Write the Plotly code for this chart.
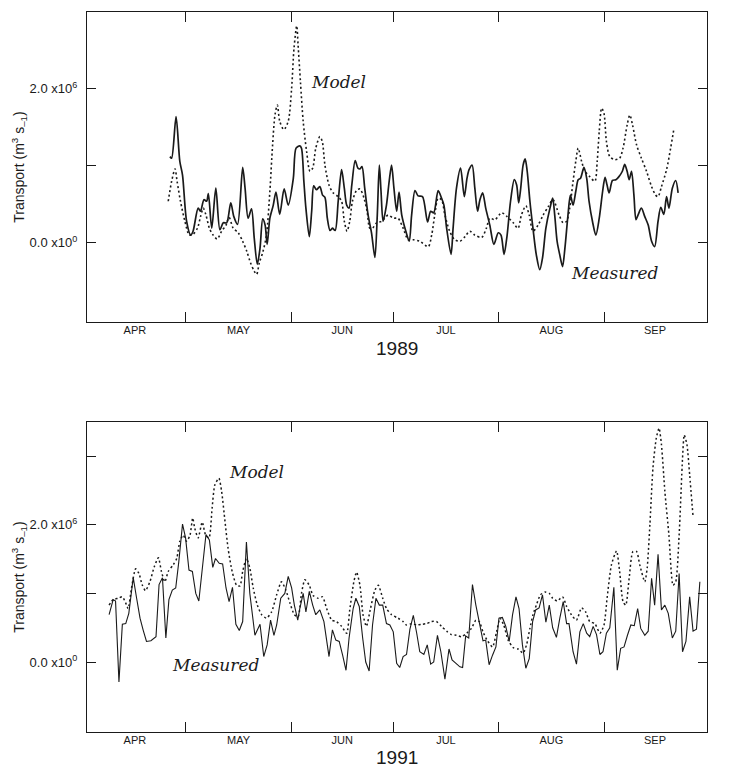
import plotly.graph_objects as go

# x = days since 1 April; y = transport in units of 1e6 m^3 s^-1
meas89_day = [25.3, 25.8, 27.1, 28.2, 29.0, 30.2, 31.4, 32.1, 33.6, 34.3, 35.3, 36.1, 36.6, 37.6, 38.8, 40.0,
              41.0, 42.0, 43.2, 44.1, 45.2, 46.7, 47.4, 48.3, 49.3, 50.1, 51.0, 51.8, 52.6, 53.3, 53.9, 54.7,
              55.7, 56.5, 57.6, 58.9, 60.1, 61.6, 62.4, 63.5, 64.0, 64.7, 65.3, 66.3, 67.0, 67.6, 68.4, 69.4,
              70.2, 70.9, 71.6, 72.4, 73.1, 73.9, 74.8, 75.8, 76.6, 77.3, 78.0, 78.8, 79.8, 80.6, 81.2, 81.8,
              82.6, 83.6, 84.6, 85.6, 86.3, 86.9, 87.4, 88.0, 89.0, 89.8, 90.5, 91.2, 92.0, 92.7, 93.5, 94.7,
              95.7, 96.4, 97.4, 98.3, 99.6, 101.1, 102.0, 102.9, 104.2, 105.2, 105.9, 106.7, 108.0, 108.6,
              109.6, 110.8, 111.9, 112.7, 113.3, 114.2, 115.0, 115.8, 116.5, 117.3, 118.2, 119.4, 120.6,
              121.9, 122.7, 123.6, 124.5, 125.5, 126.6, 127.3, 127.9, 128.5, 129.2, 129.8, 130.4, 131.2,
              132.1, 133.1, 134.1, 134.9, 135.9, 137.1, 137.9, 138.5, 139.2, 140.0, 140.8, 141.5, 142.4,
              143.1, 143.9, 144.7, 145.4, 146.1, 147.1, 147.9, 148.6, 149.6, 150.6, 151.6, 152.6, 153.3,
              153.9, 154.5, 155.5, 156.5, 157.4, 158.4, 159.1, 159.8, 160.4, 161.1, 161.8, 162.4, 163.0,
              164.0, 165.0, 166.0, 167.0, 167.9, 168.9, 169.7, 170.6, 171.4, 172.1, 173.1, 174.1, 174.8]
meas89_val = [1.12, 1.10, 1.64, 1.06, 0.88, 0.28, 0.10, 0.15, 0.45, 0.41, 0.56, 0.54, 0.64, 0.19, 0.71, 0.17,
              0.26, 0.26, 0.52, 0.34, 0.24, 0.98, 0.71, 0.32, 0.44, 0.06, -0.28, -0.07, 0.31, 0.23, -0.02, 0.32,
              0.49, 0.66, 0.37, 0.70, 0.49, 0.84, 1.23, 1.26, 1.23, 0.80, 0.45, 0.08, 0.41, 0.74, 0.69, 0.73,
              0.62, 0.59, 0.32, 0.16, 0.19, 0.16, 0.54, 0.95, 0.71, 0.49, 0.45, 0.75, 1.07, 0.97, 0.96, 0.99,
              0.71, 0.36, 0.13, -0.19, 0.36, 1.01, 0.67, 0.28, 0.49, 0.80, 1.01, 0.71, 0.41, 0.66, 0.36, 0.15,
              0.02, 0.36, 0.68, 0.61, 0.60, 0.27, 0.41, 0.39, 0.68, 0.58, 0.49, 0.19, -0.15, 0.19,
              0.71, 0.97, 0.60, 0.84, 0.95, 1.01, 0.71, 0.41, 0.56, 0.65, 0.45, 0.23, -0.02,
              0.13, 0.10, -0.15, 0.10, 0.54, 0.82, 0.75, 0.52, 0.71, 1.01, 1.09, 0.93, 0.54,
              0.19, -0.16, -0.35, -0.20, 0.19, 0.45, 0.58, 0.36, 0.02, -0.16, -0.31, -0.07, 0.36,
              0.62, 0.49, 0.67, 0.82, 0.84, 0.98, 0.84, 0.54, 0.28, 0.10, 0.32, 0.67, 0.85,
              0.75, 0.65, 0.81, 0.82, 0.86, 0.93, 1.02, 0.93, 0.82, 0.93, 0.62, 0.30, 0.36,
              0.45, 0.34, 0.23, 0.02, -0.05, 0.28, 0.46, 0.37, 0.60, 0.45, 0.71, 0.81, 0.65]

model89_day = [24.8, 25.8, 26.8, 27.4, 28.4, 29.7, 31.0, 32.1, 33.4, 34.3, 35.1, 35.9, 36.9, 38.0, 39.2, 40.5,
               41.8, 42.7, 43.9, 45.4, 46.7, 47.9, 49.0, 50.1, 50.8, 51.6, 52.7, 53.7, 54.7, 55.5, 56.2, 56.9,
               57.6, 58.8, 60.1, 61.1, 61.8, 62.6, 63.0, 63.7, 64.5, 65.5, 66.5, 67.3, 68.2, 69.4, 70.1, 70.9,
               72.1, 73.3, 74.8, 75.8, 76.6, 77.4, 78.2, 79.0, 80.2, 81.2, 82.4, 83.3, 84.1, 84.9, 86.1, 87.6,
               89.5, 91.0, 92.4, 93.9, 95.4, 96.9, 98.8, 101.3, 102.3, 103.2, 104.2, 105.2, 106.2, 107.6,
               109.1, 110.6, 112.1, 113.5, 115.0, 117.0, 118.4, 119.4, 120.9, 122.9, 124.5, 126.3, 127.7,
               128.7, 130.0, 131.0, 132.1, 133.6, 135.1, 136.6, 138.0, 139.8, 141.0, 142.0, 142.9, 143.9,
               144.7, 145.4, 146.4, 147.4, 148.8, 150.3, 151.0, 151.6, 152.3, 153.0, 153.7, 154.7, 156.2,
               157.6, 158.6, 159.8, 160.6, 161.4, 162.6, 164.0, 165.5, 167.0, 168.2, 168.9, 169.9, 171.4,
               172.6, 173.6]
model89_val = [0.54, 0.80, 0.96, 0.80, 0.54, 0.28, 0.10, 0.11, 0.19, 0.34, 0.45, 0.36, 0.19, 0.10, 0.05, 0.15,
               0.23, 0.33, 0.19, 0.13, 0.02, -0.11, -0.26, -0.37, -0.41, -0.26, -0.11, 0.10, 0.67, 1.27, 1.66, 1.79,
               1.58, 1.47, 1.58, 2.01, 2.53, 2.82, 2.57, 2.09, 1.58, 1.19, 0.93, 0.97, 1.23, 1.38, 1.32, 1.01,
               0.75, 0.65, 0.60, 0.54, 0.28, 0.15, 0.28, 0.54, 0.68, 0.70, 0.58, 0.41, 0.19, 0.19, 0.26, 0.28,
               0.36, 0.32, 0.32, 0.19, 0.04, 0.04, 0.02, -0.05, 0.10, 0.36, 0.58, 0.56, 0.36, 0.15,
               0.04, 0.02, 0.08, 0.15, 0.10, 0.07, 0.19, 0.32, 0.30, 0.39, 0.34, 0.26, 0.19,
               0.36, 0.48, 0.36, 0.15, 0.23, 0.36, 0.47, 0.56, 0.36, 0.26, 0.28, 0.45, 0.80,
               1.06, 1.23, 1.06, 0.93, 0.86, 0.80, 1.06, 1.45, 1.75, 1.68, 1.32, 1.12, 1.08,
               1.10, 1.23, 1.53, 1.66, 1.53, 1.27, 1.10, 0.93, 0.73, 0.62, 0.60, 0.73, 0.95,
               1.23, 1.49]

meas91_day = [7.4, 8.6, 9.3, 10.3, 11.3, 12.3, 13.2, 14.5, 15.5, 16.5, 17.4, 18.4, 19.7, 21.2, 22.1, 23.1,
              24.1, 25.0, 26.0, 27.0, 27.9, 29.0, 29.9, 30.9, 31.9, 32.9, 33.8, 34.9, 35.9, 36.9, 37.9, 38.7,
              39.8, 40.8, 41.8, 42.7, 43.7, 44.7, 45.7, 46.7, 47.8, 48.8, 50.3, 51.8, 52.9, 53.9, 54.9, 55.9,
              56.7, 57.9, 59.1, 60.1, 61.1, 61.9, 62.9, 63.5, 64.5, 65.3, 66.3, 67.3, 68.2, 69.4, 70.6, 72.1,
              73.1, 74.1, 75.1, 76.1, 77.1, 78.0, 79.2, 80.0, 81.0, 82.0, 82.9, 83.9, 84.9, 85.9, 86.9, 87.9,
              89.0, 90.0, 91.0, 92.0, 92.9, 93.9, 94.9, 95.9, 96.9, 97.9, 98.8, 100.0, 101.0, 102.0, 102.9,
              104.0, 105.0, 106.2, 107.4, 108.3, 109.6, 110.6, 111.4, 112.3, 113.2, 114.3, 115.3, 116.5,
              117.4, 118.2, 119.2, 120.2, 121.2, 122.1, 123.1, 124.1, 125.1, 126.1, 127.1, 128.0, 129.0,
              130.0, 131.0, 132.0, 132.9, 133.9, 134.9, 135.9, 136.9, 137.9, 139.0, 140.0, 141.0, 142.0,
              142.7, 143.9, 144.9, 145.9, 146.9, 147.9, 148.8, 149.8, 150.8, 151.8, 152.7, 153.7, 154.7,
              155.9, 156.9, 157.9, 158.9, 159.9, 160.9, 161.9, 162.9, 163.8, 165.0, 166.0, 167.0, 167.9,
              168.9, 169.9, 170.9, 171.9, 173.1, 174.1, 175.1, 176.1, 177.1, 178.2, 179.2, 180.2, 181.2]
meas91_val = [0.69, 0.91, 0.89, -0.29, 0.55, 0.56, 0.71, 1.23, 0.93, 0.64, 0.47, 0.30, 0.31, 0.37, 1.13, 1.23,
              0.35, 0.91, 1.05, 1.08, 1.46, 2.01, 1.81, 1.34, 1.32, 1.00, 0.89, 1.42, 1.86, 1.78, 1.38, 1.51,
              1.44, 1.43, 1.08, 0.88, 1.09, 0.55, 0.46, 0.59, 1.75, 1.00, 0.39, 0.55, 0.08, 0.25, 0.61, 0.39,
              0.54, 0.93, 1.00, 1.25, 1.08, 0.83, 0.61, 0.78, 1.00, 0.73, 1.03, 0.83, 0.69, 0.76, 0.59, 0.08,
              0.47, 0.32, 0.30, 0.10, -0.12, 0.35, 0.78, 0.93, 0.81, 0.35, 0.00, -0.13, 0.54, 0.93, 0.83, 0.83,
              0.56, 0.54, 0.44, -0.02, -0.08, 0.08, 0.11, 0.48, 0.68, 0.42, 0.15, 0.11, 0.25, -0.03, 0.00,
              0.39, 0.15, -0.25, 0.19, 0.03, -0.02, -0.07, -0.08, 0.38, 0.35, 1.13, 0.83, 0.54,
              0.31, 0.32, -0.04, 0.10, 0.22, 0.64, 0.65, 0.52, 0.30, 0.69, 0.95, 0.78, 0.25,
              -0.09, 0.05, 0.59, 0.76, 0.79, 0.98, 0.58, 0.83, 0.50, 0.36, 0.64, 0.88, 0.56,
              0.56, 0.15, -0.03, 0.44, 0.56, 0.42, 0.37, 0.52, 0.40, 0.11, 0.15, 0.42, 0.50,
              1.09, -0.12, 0.20, 0.22, 0.39, 0.54, 0.53, 0.78, 0.49, 0.39, 0.45, 1.22, 0.83,
              1.57, 0.76, 0.83, 0.71, 0.35, 0.45, 1.29, 0.15, 0.30, 0.95, 0.45, 0.48, 1.17]

model91_day = [7.4, 8.6, 10.1, 11.3, 12.3, 13.0, 14.0, 15.2, 16.2, 17.1, 18.1, 19.4, 20.7, 21.9, 22.8, 23.8,
               24.8, 26.3, 27.3, 28.2, 29.2, 30.2, 31.2, 32.0, 32.6, 33.6, 34.8, 35.8, 36.8, 37.7, 38.5, 39.7,
               40.5, 41.5, 42.4, 43.6, 44.9, 45.9, 46.7, 47.8, 48.8, 49.8, 51.0, 52.3, 53.7, 55.2, 56.7, 58.1,
               59.4, 60.6, 61.9, 63.0, 64.0, 65.0, 66.3, 67.4, 68.9, 70.2, 71.4, 72.9, 74.3, 75.8, 77.3, 78.2,
               79.4, 80.2, 81.2, 82.1, 83.1, 84.3, 85.6, 86.6, 87.9, 89.0, 90.5, 92.4, 93.9, 94.9, 96.4, 97.9,
               99.3, 100.8, 102.2, 103.7, 105.2, 106.7, 108.1, 109.6, 111.1, 112.6, 114.0, 115.3, 116.3, 117.4,
               118.6, 120.2, 121.4, 122.4, 123.5, 124.8, 126.3, 127.7, 129.2, 130.2, 131.2, 132.1, 133.1,
               134.3, 135.6, 136.9, 137.9, 139.2, 140.8, 142.0, 143.4, 144.9, 146.4, 147.6, 148.8, 150.3,
               151.8, 153.0, 153.9, 155.2, 156.7, 157.6, 158.6, 159.4, 160.4, 161.5, 162.6, 163.5, 165.0,
               165.7, 166.5, 167.4, 168.4, 169.2, 169.9, 170.9, 172.1, 173.3, 174.1, 175.1, 176.1, 176.6,
               177.4, 178.2, 179.2]
model91_val = [0.83, 0.91, 0.93, 0.95, 0.86, 0.78, 1.08, 1.36, 1.29, 1.13, 1.04, 1.17, 1.39, 1.52, 1.32, 1.17,
               1.32, 1.42, 1.51, 1.76, 1.85, 1.76, 1.85, 2.10, 1.95, 1.81, 2.04, 1.85, 1.81, 2.24, 2.58, 2.68,
               2.49, 2.05, 1.66, 1.32, 1.12, 1.11, 1.32, 1.51, 1.37, 1.08, 0.83, 0.69, 0.64, 0.73, 0.98, 1.17,
               1.05, 0.86, 0.69, 0.66, 1.00, 1.20, 1.12, 0.97, 0.93, 0.95, 0.78, 0.61, 0.59, 0.52, 0.42, 0.76,
               1.17, 1.31, 1.12, 0.69, 0.52, 0.78, 1.05, 1.12, 0.93, 0.78, 0.69, 0.64, 0.59, 0.54, 0.56, 0.54,
               0.55, 0.56, 0.59, 0.59, 0.52, 0.45, 0.40, 0.39, 0.37, 0.42, 0.49, 0.61, 0.59, 0.44,
               0.32, 0.22, 0.44, 0.64, 0.54, 0.32, 0.21, 0.19, 0.13, 0.25, 0.49, 0.69, 0.83,
               0.98, 1.02, 1.00, 0.93, 0.89, 0.95, 0.81, 0.69, 0.61, 0.79, 0.73, 0.59, 0.56,
               0.42, 0.54, 0.93, 1.42, 1.62, 1.32, 0.88, 0.83, 1.22, 1.61, 1.61, 1.42, 1.17,
               1.37, 2.00, 2.83, 3.27, 3.41, 3.17, 2.49, 1.85, 1.12, 1.17, 1.85, 2.97, 3.31,
               3.17, 2.73, 2.12]

month_start = [0, 30, 61, 91, 122, 153, 183]
month_names = ["APR", "MAY", "JUN", "JUL", "AUG", "SEP"]
month_mid = [(month_start[i] + month_start[i + 1]) / 2 for i in range(6)]
x_range = [0.9, 183.3]

ytick_vals_89 = [0, 1, 2]
ytick_text_89 = ["0.0 x10<sup>0</sup>", "", "2.0 x10<sup>6</sup>"]
ytick_vals_91 = [0, 1, 2, 3]
ytick_text_91 = ["0.0 x10<sup>0</sup>", "", "2.0 x10<sup>6</sup>", ""]

INK = "#1a1a1a"
DOT = "2px,2.6px"

fig = go.Figure()
fig.add_trace(go.Scatter(x=model89_day, y=model89_val, mode="lines", xaxis="x", yaxis="y",
                         line=dict(color=INK, width=1.6, dash=DOT, shape="spline", smoothing=0.8)))
fig.add_trace(go.Scatter(x=meas89_day, y=meas89_val, mode="lines", xaxis="x", yaxis="y",
                         line=dict(color=INK, width=1.7, shape="spline", smoothing=0.8)))
fig.add_trace(go.Scatter(x=model91_day, y=model91_val, mode="lines", xaxis="x2", yaxis="y2",
                         line=dict(color=INK, width=1.5, dash=DOT, shape="spline", smoothing=0.6)))
fig.add_trace(go.Scatter(x=meas91_day, y=meas91_val, mode="lines", xaxis="x2", yaxis="y2",
                         line=dict(color=INK, width=1.1)))
# empty traces to attach month-label axes
fig.add_trace(go.Scatter(x=[], y=[], xaxis="x3", yaxis="y", showlegend=False))
fig.add_trace(go.Scatter(x=[], y=[], xaxis="x4", yaxis="y2", showlegend=False))

tickfont = dict(family="Liberation Sans, Arial, sans-serif", size=13, color=INK)
frame = dict(showline=True, linecolor=INK, linewidth=1.2, mirror="ticks", ticks="inside",
             tickcolor=INK, tickwidth=1.2, showgrid=False, zeroline=False)

top_dom = [0.5694, 1.0]
bot_dom = [0.0, 0.4306]

# page body has an 8px default margin; the figure is sized to fit inside it
fig.update_layout(
    width=734, height=765, showlegend=False,
    paper_bgcolor="white", plot_bgcolor="white",
    margin=dict(l=79, r=35, t=4, b=41),
    xaxis=dict(domain=[0, 1], range=x_range, anchor="y", tickvals=month_start[1:6],
               showticklabels=False, ticklen=10, **frame),
    yaxis=dict(domain=top_dom, range=[-1.03, 3.0], anchor="x", tickvals=ytick_vals_89,
               ticktext=ytick_text_89, ticklen=9, tickfont=tickfont, ticklabelstandoff=6, **frame),
    xaxis2=dict(domain=[0, 1], range=x_range, anchor="y2", tickvals=month_start[1:6],
                showticklabels=False, ticklen=10, **frame),
    yaxis2=dict(domain=bot_dom, range=[-1.02, 3.5], anchor="x2", tickvals=ytick_vals_91,
                ticktext=ytick_text_91, ticklen=9, tickfont=tickfont, ticklabelstandoff=6, **frame),
    xaxis3=dict(overlaying="x", anchor="y", range=x_range, tickvals=month_mid, ticktext=month_names,
                showline=False, ticks="", showgrid=False, zeroline=False,
                tickfont=dict(family="Liberation Sans, Arial, sans-serif", size=11, color=INK)),
    xaxis4=dict(overlaying="x2", anchor="y2", range=x_range, tickvals=month_mid, ticktext=month_names,
                showline=False, ticks="", showgrid=False, zeroline=False,
                tickfont=dict(family="Liberation Sans, Arial, sans-serif", size=11, color=INK)),
)

label_font = dict(family="DejaVu Serif, serif", size=17, color=INK)
title_font = dict(family="Liberation Sans, Arial, sans-serif", size=14, color=INK)
year_font = dict(family="Liberation Sans, Arial, sans-serif", size=19, color=INK)
ytitle = "Transport (m<sup>3</sup> s<sub>\u20131</sub>)"

annotations = [
    dict(text="<i>Model</i>", x=75.0, y=2.09, xref="x", yref="y", showarrow=False, font=label_font),
    dict(text="<i>Measured</i>", x=156.2, y=-0.39, xref="x", yref="y", showarrow=False, font=label_font),
    dict(text="<i>Model</i>", x=50.9, y=2.77, xref="x2", yref="y2", showarrow=False, font=label_font),
    dict(text="<i>Measured</i>", x=38.8, y=-0.04, xref="x2", yref="y2", showarrow=False, font=label_font),
    dict(text="1989", x=0.5, y=0.533, xref="paper", yref="paper", showarrow=False, font=year_font,
         xanchor="center", yanchor="middle"),
    dict(text="1991", x=0.5, y=-0.035, xref="paper", yref="paper", showarrow=False, font=year_font,
         xanchor="center", yanchor="middle"),
    dict(text=ytitle, x=-0.110, y=(top_dom[0] + top_dom[1]) / 2, xref="paper", yref="paper",
         showarrow=False, textangle=-90, font=title_font, xanchor="center", yanchor="middle"),
    dict(text=ytitle, x=-0.110, y=(bot_dom[0] + bot_dom[1]) / 2, xref="paper", yref="paper",
         showarrow=False, textangle=-90, font=title_font, xanchor="center", yanchor="middle"),
]
fig.update_layout(annotations=annotations)

fig.write_html("out.html")
